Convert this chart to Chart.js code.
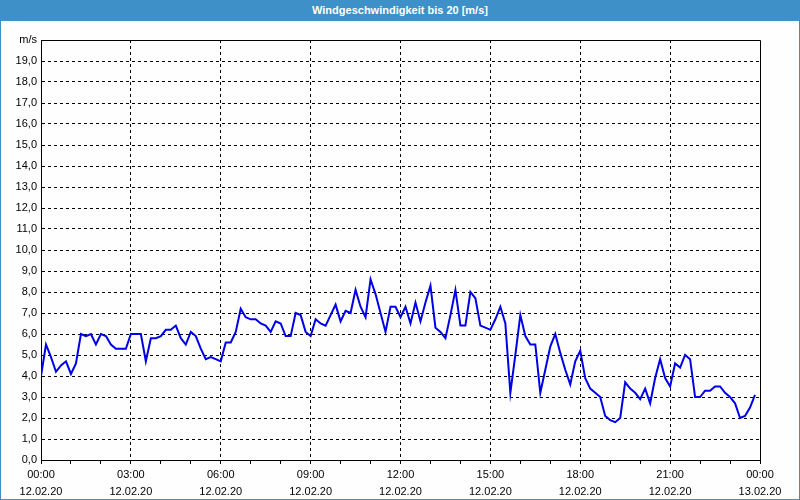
<!DOCTYPE html>
<html>
<head>
<meta charset="utf-8">
<script src="https://cdn.jsdelivr.net/npm/chart.js@4/dist/chart.umd.min.js"></script>
<style>
  html, body { margin: 0; padding: 0; background: #fdfefd; }
  #frame {
    position: relative; width: 800px; height: 500px; box-sizing: border-box;
    border: 1px solid #3d90c8; background: #fdfefd; overflow: hidden;
  }
  #bar {
    position: absolute; left: 0; top: 0; width: 798px; height: 20px;
    background: #3d90c8; color: #fff; font: bold 11px "Liberation Sans", sans-serif;
    text-align: center; line-height: 19px;
  }
  #wrap { position: absolute; left: 0; top: 20px; width: 798px; height: 478px; }
</style>
</head>
<body>
<div id="frame">
  <div id="bar">Windgeschwindigkeit bis 20 [m/s]</div>
  <div id="wrap"><canvas id="chart" width="798" height="478"></canvas></div>
</div>
<script>
// wind speed in m/s, one value every 10 minutes from 12.02.20 00:00
const stepMinutes = 10;
const windSpeed = [
  4.0, 5.5, 4.9, 4.2, 4.5, 4.7, 4.1, 4.6, 6.0, 5.9, 6.0, 5.5,
  6.0, 5.9, 5.5, 5.3, 5.3, 5.3, 6.0, 6.0, 6.0, 4.7, 5.8, 5.8,
  5.9, 6.2, 6.2, 6.4, 5.8, 5.5, 6.1, 5.9, 5.3, 4.8, 4.9, 4.8,
  4.7, 5.6, 5.6, 6.1, 7.2, 6.8, 6.7, 6.7, 6.5, 6.4, 6.1, 6.6,
  6.5, 5.9, 5.9, 7.0, 6.9, 6.1, 5.9, 6.7, 6.5, 6.4, 6.9, 7.4,
  6.6, 7.1, 7.0, 8.1, 7.3, 6.8, 8.6, 7.9, 7.0, 6.1, 7.3, 7.3,
  6.8, 7.3, 6.5, 7.5, 6.6, 7.5, 8.3, 6.3, 6.1, 5.8, 6.9, 8.1,
  6.4, 6.4, 8.0, 7.7, 6.4, 6.3, 6.2, 6.7, 7.3, 6.5, 3.2, 5.0,
  6.9, 5.9, 5.5, 5.5, 3.2, 4.3, 5.4, 6.0, 5.1, 4.3, 3.6, 4.7,
  5.2, 3.9, 3.4, 3.2, 3.0, 2.1, 1.9, 1.8, 2.0, 3.7, 3.4, 3.2,
  2.9, 3.4, 2.7, 3.9, 4.8, 3.9, 3.5, 4.6, 4.4, 5.0, 4.8, 3.0,
  3.0, 3.3, 3.3, 3.5, 3.5, 3.2, 3.0, 2.7, 2.0, 2.1, 2.5, 3.1
];
const dayLabels = ['12.02.20', '13.02.20'];
const yMax = 20;
const yUnit = 'm/s';

const points = windSpeed.map((v, i) => ({ x: i * stepMinutes / 60, y: v }));

const FONT = { family: '"Liberation Sans", Arial, sans-serif', size: 11, lineHeight: 1.5 };
Chart.defaults.color = '#000';

const frameBox = {
  id: 'frameBox',
  beforeDatasetsDraw(chart) {
    const { ctx, chartArea: a } = chart;
    ctx.save();
    ctx.strokeStyle = '#000';
    ctx.lineWidth = 1;
    ctx.beginPath();
    ctx.moveTo(Math.round(a.left), Math.round(a.top) + 0.5);
    ctx.lineTo(Math.round(a.right) + 0.5, Math.round(a.top) + 0.5);
    ctx.lineTo(Math.round(a.right) + 0.5, Math.round(a.bottom));
    ctx.stroke();
    ctx.restore();
  }
};

new Chart(document.getElementById('chart'), {
  type: 'line',
  data: {
    datasets: [{
      data: points,
      borderColor: '#0000e6',
      borderWidth: 2,
      pointRadius: 0,
      tension: 0,
      fill: false
    }]
  },
  options: {
    responsive: false,
    animation: false,
    layout: { padding: { left: 0, right: 39, top: 19, bottom: 0 } },
    plugins: { legend: { display: false }, tooltip: { enabled: false } },
    scales: {
      x: {
        type: 'linear',
        min: 0,
        max: 24,
        afterFit: s => { s.height = 39; },
        border: {
          display: true, color: '#000', width: 1,
          dash: [3, 3]
        },
        grid: {
          color: c => (c.tick && c.tick.value % 3 === 0 && c.tick.value > 0 && c.tick.value < 24) ? '#000' : 'rgba(0,0,0,0)',
          tickColor: '#000',
          tickLength: 4,
          lineWidth: 1
        },
        ticks: {
          stepSize: 1,
          autoSkip: false,
          maxRotation: 0,
          padding: 3,
          font: FONT,
          callback: v => {
            if (v % 3 !== 0) return '';
            const h = v % 24;
            return [String(h).padStart(2, '0') + ':00', dayLabels[v >= 24 ? 1 : 0]];
          }
        }
      },
      y: {
        min: 0,
        max: yMax,
        afterFit: s => { s.width = 40; },
        border: { display: true, color: '#000', width: 1, dash: [3, 3] },
        grid: {
          color: c => (c.tick && c.tick.value > 0 && c.tick.value < yMax) ? '#000' : 'rgba(0,0,0,0)',
          drawTicks: false,
          lineWidth: 1
        },
        ticks: {
          stepSize: 1,
          autoSkip: false,
          padding: 4,
          font: FONT,
          callback: v => v === yMax ? yUnit : v.toFixed(1).replace('.', ',')
        }
      }
    }
  },
  plugins: [frameBox]
});
</script>
</body>
</html>
